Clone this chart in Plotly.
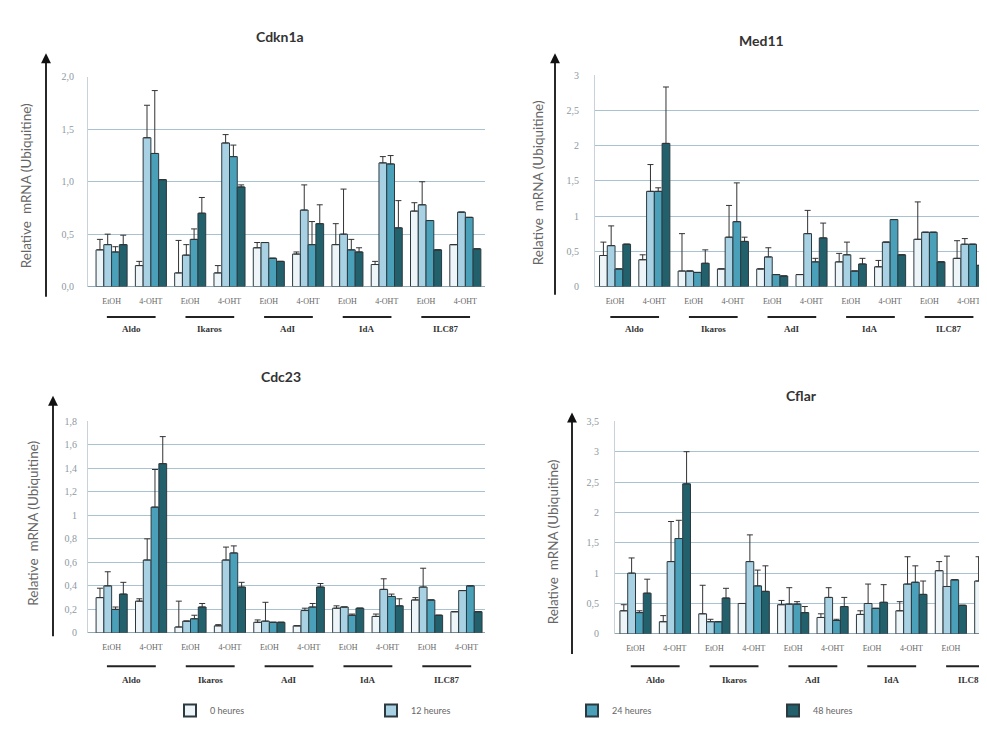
import plotly.graph_objects as go

# ---------------- data ----------------
conditions = ["EtOH", "4-OHT"] * 5
cell_lines = ["Aldo", "Ikaros", "AdI", "IdA", "ILC87"]
series_names = ["0 heures", "12 heures", "24 heures", "48 heures"]
y_title = "Relative  mRNA (Ubiquitine)"

N = None
# Cdkn1a
cdkn1a_0h = [0.35, 0.20, 0.13, 0.13, 0.37, 0.31, 0.40, 0.21, 0.72, 0.40]
cdkn1a_12h = [0.40, 1.42, 0.30, 1.37, 0.42, 0.73, 0.50, 1.18, 0.78, 0.71]
cdkn1a_24h = [0.33, 1.27, 0.45, 1.24, 0.27, 0.40, 0.35, 1.17, 0.63, 0.66]
cdkn1a_48h = [0.40, 1.02, 0.70, 0.95, 0.24, 0.60, 0.33, 0.56, 0.35, 0.36]
cdkn1a_err_0h = [0.10, 0.04, 0.31, 0.07, 0.05, 0.02, 0.20, 0.03, 0.08, N]
cdkn1a_err_12h = [0.10, 0.31, 0.10, 0.08, N, 0.24, 0.43, 0.06, 0.22, N]
cdkn1a_err_24h = [0.05, 0.60, 0.10, 0.11, N, 0.22, 0.10, 0.08, N, N]
cdkn1a_err_48h = [0.09, N, 0.15, 0.02, N, 0.18, 0.04, 0.26, N, N]

# Med11
med11_0h = [0.44, 0.38, 0.22, 0.25, 0.25, 0.17, 0.35, 0.28, 0.67, 0.40]
med11_12h = [0.58, 1.35, 0.22, 0.70, 0.42, 0.75, 0.45, 0.63, 0.77, 0.60]
med11_24h = [0.25, 1.35, 0.20, 0.92, 0.17, 0.35, 0.22, 0.95, 0.77, 0.60]
med11_48h = [0.60, 2.03, 0.33, 0.64, 0.15, 0.69, 0.32, 0.45, 0.35, 0.30]
med11_err_0h = [0.19, 0.07, 0.53, N, N, N, 0.12, 0.09, 0.53, 0.25]
med11_err_12h = [0.28, 0.38, N, 0.45, 0.13, 0.33, 0.18, N, N, 0.08]
med11_err_24h = [N, 0.05, N, 0.55, N, 0.05, N, N, N, N]
med11_err_48h = [N, 0.80, 0.19, 0.06, N, 0.21, 0.08, N, N, N]

# Cdc23
cdc23_0h = [0.30, 0.27, 0.05, 0.06, 0.09, 0.06, 0.21, 0.14, 0.28, 0.18]
cdc23_12h = [0.40, 0.62, 0.10, 0.62, 0.10, 0.19, 0.22, 0.37, 0.39, 0.36]
cdc23_24h = [0.20, 1.07, 0.12, 0.68, 0.09, 0.22, 0.15, 0.31, 0.28, 0.40]
cdc23_48h = [0.33, 1.44, 0.22, 0.39, 0.09, 0.39, 0.21, 0.23, 0.15, 0.18]
cdc23_err_0h = [0.08, 0.02, 0.22, 0.01, 0.02, N, 0.02, 0.02, 0.02, N]
cdc23_err_12h = [0.12, 0.18, N, 0.11, 0.16, 0.02, N, 0.09, 0.16, N]
cdc23_err_24h = [0.02, 0.32, 0.03, 0.06, N, 0.03, 0.01, 0.02, N, N]
cdc23_err_48h = [0.10, 0.23, 0.03, 0.04, N, 0.03, N, 0.06, N, N]

# Cflar
cflar_0h = [0.38, 0.20, 0.33, 0.50, 0.48, 0.27, 0.32, 0.38, 1.04, 0.87]
cflar_12h = [1.00, 1.19, 0.20, 1.19, 0.49, 0.60, 0.50, 0.82, 0.78, 0.30]
cflar_24h = [0.35, 1.57, 0.20, 0.79, 0.49, 0.22, 0.42, 0.85, 0.89, 0.40]
cflar_48h = [0.67, 2.47, 0.59, 0.70, 0.35, 0.45, 0.52, 0.65, 0.47, 0.40]
cflar_err_0h = [0.10, 0.10, 0.47, N, 0.07, 0.06, 0.06, 0.15, 0.15, 0.40]
cflar_err_12h = [0.25, 0.66, 0.04, 0.44, 0.27, 0.16, 0.32, 0.45, 0.50, N]
cflar_err_24h = [0.03, 0.30, N, 0.26, 0.04, 0.02, N, 0.27, N, N]
cflar_err_48h = [0.23, 0.53, 0.16, 0.42, 0.10, 0.15, 0.29, 0.22, N, N]

panel_titles = ["Cdkn1a", "Med11", "Cdc23", "Cflar"]
panel_values = [
    [cdkn1a_0h, cdkn1a_12h, cdkn1a_24h, cdkn1a_48h],
    [med11_0h, med11_12h, med11_24h, med11_48h],
    [cdc23_0h, cdc23_12h, cdc23_24h, cdc23_48h],
    [cflar_0h, cflar_12h, cflar_24h, cflar_48h],
]
panel_errors = [
    [cdkn1a_err_0h, cdkn1a_err_12h, cdkn1a_err_24h, cdkn1a_err_48h],
    [med11_err_0h, med11_err_12h, med11_err_24h, med11_err_48h],
    [cdc23_err_0h, cdc23_err_12h, cdc23_err_24h, cdc23_err_48h],
    [cflar_err_0h, cflar_err_12h, cflar_err_24h, cflar_err_48h],
]
y_ticks = [
    [0, 0.5, 1.0, 1.5, 2.0],
    [0, 0.5, 1, 1.5, 2, 2.5, 3],
    [0, 0.2, 0.4, 0.6, 0.8, 1, 1.2, 1.4, 1.6, 1.8],
    [0, 0.5, 1, 1.5, 2, 2.5, 3, 3.5],
]
y_ticktext = [
    ["0,0", "0,5", "1,0", "1,5", "2,0"],
    ["0", "0,5", "1", "1,5", "2", "2,5", "3"],
    ["0", "0,2", "0,4", "0,6", "0,8", "1", "1,2", "1,4", "1,6", "1,8"],
    ["0", "0,5", "1", "1,5", "2", "2,5", "3", "3,5"],
]

# ---------------- style ----------------
W, H = 987, 745
bar_colors = ["#eef5f8", "#a8d2e3", "#4aa0b8", "#22606c"]
x_idx = list(range(10))

def px_x(p):
    return p / W

def px_y(p):
    return 1 - p / H

layouts = [
    dict(xd=(80, 477), yd=(64, 277), xr=(-0.6, 9.5), yr=(0, 2.0), ticklen=11),
    dict(xd=(587, 978), yd=(62, 277), xr=(-0.51, 9.44), yr=(0, 3.0), ticklen=13),
    dict(xd=(80, 477), yd=(414, 629), xr=(-0.6, 9.47), yr=(0, 1.8), ticklen=8),
    dict(xd=(607, 987), yd=(414, 630), xr=(-0.52, 9.12), yr=(0, 3.5), ticklen=13),
]

fig = go.Figure()

for p in range(4):
    xa = "x" if p == 0 else f"x{p+1}"
    ya = "y" if p == 0 else f"y{p+1}"
    for s in range(4):
        fig.add_trace(go.Bar(
            x=x_idx, y=panel_values[p][s],
            name=series_names[s],
            marker=dict(color=bar_colors[s], line=dict(color="#2b3a40", width=1)),
            error_y=dict(type="data", array=panel_errors[p][s], symmetric=False,
                         arrayminus=[0] * 10, color="#333333", thickness=1, width=3),
            xaxis=xa, yaxis=ya,
            showlegend=(p == 0),
            legendgroup=series_names[s],
        ))

annotations = []
shapes = []

title_pos = [(272, 23), (753, 27), (273, 368), (793, 388)]
arrow_pos = [(38, 40, 285), (547, 40, 283), (45, 388, 630), (564, 405, 648)]
ytitle_pos = [(18, 175), (530, 172), (25, 518), (545, 537)]
line_y = [308, 308, 663, 663]
label_y = [320, 320, 677, 677]

for p in range(4):
    L = layouts[p]
    sx = "" if p == 0 else str(p + 1)
    fig.layout[f"xaxis{sx}"] = dict(
        domain=[px_x(L["xd"][0]), px_x(L["xd"][1])],
        range=list(L["xr"]), anchor=f"y{sx}",
        tickmode="array", tickvals=x_idx, ticktext=conditions,
        tickfont=dict(family="Liberation Serif", size=8, color="#666666"),
        ticks="outside", ticklen=7, tickcolor="rgba(0,0,0,0)",
        showgrid=False, zeroline=False, showline=False, fixedrange=True,
    )
    fig.layout[f"yaxis{sx}"] = dict(
        domain=[px_y(L["yd"][1]), px_y(L["yd"][0])],
        range=list(L["yr"]), anchor=f"x{sx}",
        tickmode="array", tickvals=y_ticks[p], ticktext=y_ticktext[p],
        tickfont=dict(family="Liberation Serif", size=10, color="#8d99a3"),
        ticks="outside", ticklen=L["ticklen"], tickcolor="rgba(0,0,0,0)",
        showgrid=True, gridcolor="#a9c2cf", gridwidth=1.2,
        zeroline=True, zerolinecolor="#8fa8b5", zerolinewidth=1.2,
        showline=True, linecolor="#c8d3d9", linewidth=1, fixedrange=True,
    )
    tx, ty = title_pos[p]
    annotations.append(dict(
        x=px_x(tx), y=px_y(ty), xref="paper", yref="paper", text=f"<b>{panel_titles[p]}</b>",
        showarrow=False, font=dict(family="Lato", size=14, color="#333333"),
        xanchor="center", yanchor="middle"))
    axp, tip, tail = arrow_pos[p]
    annotations.append(dict(
        x=px_x(axp), y=px_y(tip), xref="paper", yref="paper", text="",
        showarrow=True, ax=0, ay=tail - tip, arrowhead=2, arrowsize=1.1,
        arrowwidth=1.8, arrowcolor="#111111"))
    yx, yy = ytitle_pos[p]
    annotations.append(dict(
        x=px_x(yx), y=px_y(yy), xref="paper", yref="paper", text=y_title,
        textangle=-90, showarrow=False,
        font=dict(family="Lato", size=13.5, color="#666666"),
        xanchor="center", yanchor="middle"))
    for k, name in enumerate(cell_lines):
        shapes.append(dict(
            type="line", xref=f"x{sx}", yref="paper",
            x0=2 * k - 0.12, x1=2 * k + 1.12,
            y0=px_y(line_y[p]), y1=px_y(line_y[p]),
            line=dict(color="#222222", width=2)))
        annotations.append(dict(
            x=2 * k + 0.5, y=px_y(label_y[p]), xref=f"x{sx}", yref="paper",
            text=f"<b>{name}</b>", showarrow=False,
            font=dict(family="Liberation Serif", size=9, color="#333333"),
            xanchor="center", yanchor="middle"))

fig.update_layout(
    width=W, height=H,
    margin=dict(l=0, r=0, t=0, b=0),
    paper_bgcolor="white", plot_bgcolor="white",
    barmode="group", bargap=0.21, bargroupgap=0,
    annotations=annotations, shapes=shapes,
    showlegend=True,
    legend=dict(
        orientation="h", x=px_x(162), y=px_y(708), xanchor="left", yanchor="middle",
        entrywidth=156, entrywidthmode="pixels",
        font=dict(family="Lato", size=9, color="#666666"),
        bgcolor="rgba(0,0,0,0)", itemsizing="constant", traceorder="normal",
    ),
)

fig.write_html("out.html")
